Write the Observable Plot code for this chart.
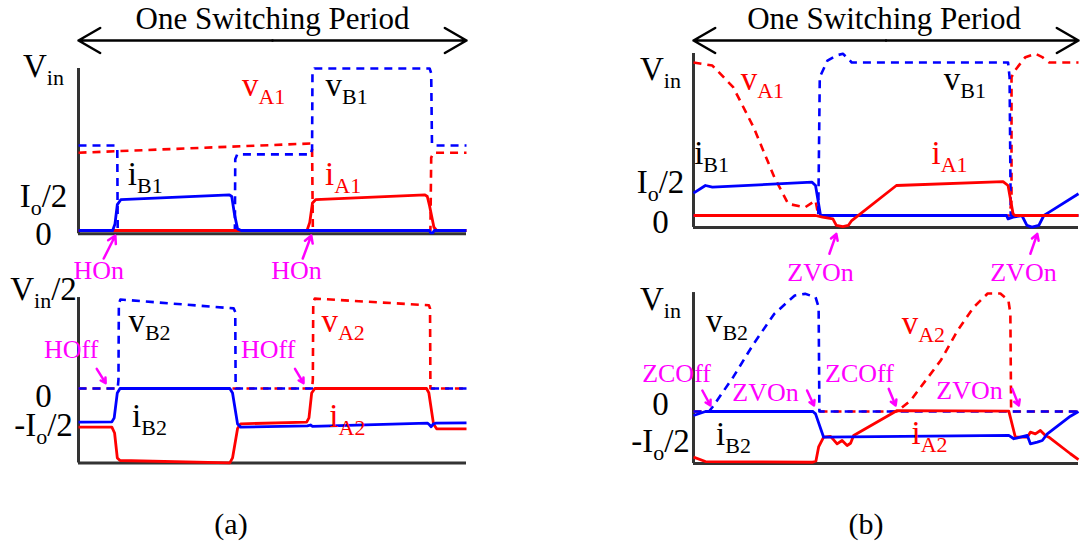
<!DOCTYPE html>
<html>
<head>
<meta charset="utf-8">
<script src="https://cdn.jsdelivr.net/npm/d3@7"></script>
<script src="https://cdn.jsdelivr.net/npm/@observablehq/plot@0.6"></script>
<style>
  body { margin: 0; background: #fff; }
  #fig { position: relative; width: 1081px; height: 544px; overflow: hidden;
         font-family: "Liberation Serif", "Times New Roman", serif; }
  #fig svg { position: absolute; left: 0; top: 0; overflow: visible; }
  .cap { position: absolute; width: 100px; text-align: center; font-size: 30px; line-height: 30px; color: #000; }
</style>
</head>
<body>
<div id="fig"></div>
<script>
// ---- waveforms over one switching period: [t (fraction of period), value] ----
// (a) hard switching, upper device pair
const aTopVA1 = [[0,0.48],[0.598,0.537],[0.602,0.52],[0.604,0],[0.907,0],[0.909,0.45],[0.915,0.48],[1,0.48]];
const aTopVB1 = [[0,0.525],[0.096,0.525],[0.1,0.5],[0.101,0],[0.403,0],[0.404,0.44],[0.409,0.47],[0.598,0.47],[0.602,0.5],[0.603,0.97],[0.608,1],[0.905,1],[0.909,0.97],[0.911,0.54],[0.915,0.525],[1,0.525]];
const aTopIA1 = [[0,0],[0.589,0],[0.596,0.05],[0.603,0.17],[0.611,0.19],[0.893,0.22],[0.899,0.21],[0.905,0.15],[0.916,0.02],[0.923,0],[1,0]];
const aTopIB1 = [[0,0],[0.088,0],[0.094,0.04],[0.1,0.16],[0.109,0.19],[0.389,0.22],[0.395,0.21],[0.402,0.1],[0.41,0.01],[0.419,0],[0.904,0],[0.908,-0.015],[0.913,-0.015],[0.917,0],[1,0]];
// (a) hard switching, lower device pair
const aBotVB2 = [[0,0],[0.101,0],[0.103,0.1],[0.104,0.95],[0.108,1.0],[0.4,0.9],[0.404,0.86],[0.405,0],[1,0]];
const aBotVA2 = [[0,0],[0.602,0],[0.604,0.1],[0.605,0.97],[0.609,1.01],[0.903,0.935],[0.906,0.9],[0.907,0],[1,0]];
const aBotIB2 = [[0,-0.378],[0.086,-0.375],[0.092,-0.33],[0.1,-0.05],[0.107,0],[0.39,0],[0.397,-0.05],[0.41,-0.4],[0.418,-0.434],[0.59,-0.42],[0.598,-0.41],[0.603,-0.425],[0.9,-0.39],[0.905,-0.41],[0.909,-0.43],[0.914,-0.4],[0.92,-0.39],[1,-0.386]];
const aBotIA2 = [[0,-0.434],[0.086,-0.434],[0.093,-0.5],[0.1,-0.78],[0.107,-0.809],[0.39,-0.835],[0.397,-0.78],[0.41,-0.45],[0.418,-0.397],[0.588,-0.378],[0.594,-0.33],[0.601,-0.05],[0.609,0],[0.897,0],[0.903,-0.05],[0.915,-0.4],[0.923,-0.453],[1,-0.453]];
// (b) soft switching, upper device pair
const bTopVA1 = [[0,1.0],[0.049,0.98],[0.103,0.839],[0.156,0.577],[0.21,0.25],[0.246,0.076],[0.29,0.054],[0.317,0.098],[0.322,0.03],[0.33,0],[0.821,0],[0.826,0.1],[0.826,0.904],[0.835,0.948],[0.862,1.035],[0.888,1.057],[0.906,1.035],[0.924,1.0],[1,1.0]];
const bTopVB1 = [[0,0],[0.324,0],[0.328,0.904],[0.348,1.013],[0.371,1.046],[0.388,1.057],[0.402,1.024],[0.411,1.0],[0.817,1.0],[0.821,0.904],[0.824,0],[1,0]];
const bTopIA1 = [[0,0],[0.317,0],[0.335,-0.011],[0.362,-0.022],[0.371,-0.065],[0.388,-0.072],[0.402,-0.065],[0.411,-0.033],[0.527,0.196],[0.804,0.222],[0.817,0.196],[0.83,0.011],[0.835,0],[1,0]];
const bTopIB1 = [[0,0.146],[0.031,0.196],[0.049,0.185],[0.308,0.218],[0.317,0.196],[0.33,0],[0.813,0],[0.817,-0.022],[0.83,-0.011],[0.853,0],[0.866,-0.065],[0.879,-0.076],[0.897,-0.065],[0.91,0],[0.924,0.022],[1,0.142]];
// (b) soft switching, lower device pair
const bBotVB2 = [[0,0],[0.04,0],[0.049,0.036],[0.103,0.291],[0.156,0.573],[0.21,0.828],[0.263,0.983],[0.29,0.997],[0.317,0.969],[0.325,0.884],[0.327,0],[1,0]];
const bBotVA2 = [[0,0],[0.53,0],[0.538,0.025],[0.564,0.093],[0.642,0.432],[0.686,0.686],[0.727,0.881],[0.764,1.0],[0.797,1.0],[0.818,0.941],[0.823,0.83],[0.825,0],[1,0]];
const bBotIB2 = [[0,-0.034],[0.031,0],[0.31,0],[0.317,-0.02],[0.338,-0.218],[0.819,-0.203],[0.832,-0.231],[0.849,-0.218],[0.867,-0.203],[0.875,-0.274],[0.893,-0.26],[0.906,-0.246],[0.919,-0.189],[0.979,-0.04],[1,0]];
const bBotIA2 = [[0,-0.387],[0.031,-0.424],[0.31,-0.43],[0.318,-0.42],[0.325,-0.3],[0.338,-0.218],[0.356,-0.212],[0.364,-0.24],[0.373,-0.274],[0.386,-0.246],[0.399,-0.288],[0.408,-0.269],[0.416,-0.203],[0.529,0.008],[0.819,0.003],[0.836,-0.218],[0.867,-0.218],[0.875,-0.175],[0.888,-0.189],[0.901,-0.161],[0.914,-0.203],[0.923,-0.218],[0.979,-0.358],[1,-0.407]];

// ---- axis tick labels ----
const aTopTicks = [{v: 1, label: "V_{in}"}, {v: 0.19, label: "I_o/2"}, {v: 0, label: "0"}];
const aBotTicks = [{v: 1, label: "V_{in}/2"}, {v: 0, label: "0"}, {v: -0.38, label: "-I_o/2"}];
const bTopTicks = [{v: 1, label: "V_{in}"}, {v: 0.196, label: "I_o/2"}, {v: 0, label: "0"}];
const bBotTicks = [{v: 1, label: "V_{in}"}, {v: 0, label: "0"}, {v: -0.23, label: "-I_o/2"}];

// ---- waveform names (anchored at the text baseline) ----
const aTopNames = [{t: 0.477, v: 0.833, text: "v_{A1}", c: "A"}, {t: 0.691, v: 0.833, text: "v_{B1}", c: "B"},
                   {t: 0.172, v: 0.278, text: "i_{B1}", c: "B"}, {t: 0.682, v: 0.278, text: "i_{A1}", c: "A"}];
const aBotNames = [{t: 0.183, v: 0.633, text: "v_{B2}", c: "B"}, {t: 0.682, v: 0.633, text: "v_{A2}", c: "A"},
                   {t: 0.183, v: -0.434, text: "i_{B2}", c: "B"}, {t: 0.693, v: -0.434, text: "i_{A2}", c: "A"}];
const bTopNames = [{t: 0.179, v: 0.817, text: "v_{A1}", c: "A"}, {t: 0.705, v: 0.817, text: "v_{B1}", c: "B"},
                   {t: 0.047, v: 0.338, text: "i_{B1}", c: "B"}, {t: 0.665, v: 0.338, text: "i_{A1}", c: "A"}];
const bBotNames = [{t: 0.087, v: 0.672, text: "v_{B2}", c: "B"}, {t: 0.597, v: 0.658, text: "v_{A2}", c: "A"},
                   {t: 0.104, v: -0.288, text: "i_{B2}", c: "B"}, {t: 0.613, v: -0.274, text: "i_{A2}", c: "A"}];

// ---- switching events: label position and pointer (tail -> head) ----
const aTopEvents = [{text: "HOn", t: 0.052, v: -0.298, t1: 0.065, v1: -0.173, t2: 0.095, v2: -0.031},
                    {text: "HOn", t: 0.562, v: -0.298, t1: 0.578, v1: -0.173, t2: 0.600, v2: -0.031}];
const aBotEvents = [{text: "HOff", t: -0.019, v: 0.345, t1: 0.047, v1: 0.221, t2: 0.07, v2: 0.06},
                    {text: "HOff", t: 0.489, v: 0.345, t1: 0.558, v1: 0.221, t2: 0.58, v2: 0.06}];
const bTopEvents = [{text: "ZVOn", t: 0.330, v: -0.429, t1: 0.353, v1: -0.25, t2: 0.371, v2: -0.12},
                    {text: "ZVOn", t: 0.857, v: -0.429, t1: 0.875, v1: -0.25, t2: 0.893, v2: -0.12}];
const bBotEvents = [{text: "ZCOff", t: -0.044, v: 0.249, t1: 0.023, v1: 0.178, t2: 0.044, v2: 0.051},
                    {text: "ZVOn", t: 0.187, v: 0.093, t1: 0.295, v1: 0.178, t2: 0.313, v2: 0.051},
                    {text: "ZCOff", t: 0.431, v: 0.249, t1: 0.507, v1: 0.192, t2: 0.525, v2: 0.051},
                    {text: "ZVOn", t: 0.717, v: 0.108, t1: 0.828, v1: 0.192, t2: 0.845, v2: 0.051}];

const periodTitle = "One Switching Period";

// ---- styling ----
const RED = "#ff0000", BLUE = "#0000ff", MAGENTA = "#ff00ff", AXIS = "#333333";
const FONT = '"Liberation Serif", "Times New Roman", serif';
const DASH = "8,6";
const nameColor = {A: RED, B: "#000"};

function waveform(data, color, dashed) {
  return Plot.line(data, {
    x: d => d[0], y: d => d[1], stroke: color,
    strokeWidth: dashed ? 2.6 : 2.8,
    strokeDasharray: dashed ? DASH : null,
    strokeLinejoin: "round", strokeLinecap: "butt"
  });
}

// One panel: the frame is placed on the page through explicit scale ranges.
function panel(cfg) {
  const {xRange, yZero, yUnit, yDomain, ticks, tickDx, tickNudge, names, events, dashed, solid, title} = cfg;
  const marks = [
    Plot.ruleY([yDomain[0]], {x1: 0, x2: 1, stroke: AXIS, strokeWidth: 3}),
    Plot.ruleX([0], {y1: yDomain[0], y2: yDomain[1], stroke: AXIS, strokeWidth: 3}),
    ...dashed.map(([d, c]) => waveform(d, c, true)),
    ...solid.map(([d, c]) => waveform(d, c, false)),
    ...ticks.map((d, i) => Plot.text([d], {
      x: () => 0, y: "v", text: "label", dx: tickDx, dy: tickNudge[i],
      textAnchor: "middle", fontSize: 33, fill: "#000"
    })),
    Plot.text(names, {x: "t", y: "v", text: "text", fill: d => nameColor[d.c],
      textAnchor: "middle", lineAnchor: "bottom", fontSize: 33}),
    Plot.text(events, {x: "t", y: "v", text: "text", fill: MAGENTA,
      textAnchor: "middle", lineAnchor: "bottom", fontSize: 26}),
    Plot.arrow(events, {x1: "t1", y1: "v1", x2: "t2", y2: "v2", stroke: MAGENTA,
      strokeWidth: 2.5, headLength: 11})
  ];
  if (title) {
    marks.push(
      Plot.arrow([0, 1], {x1: () => 0.5, x2: d => d, y1: () => title.arrow, y2: () => title.arrow,
        stroke: "#000", strokeWidth: 2.5, headLength: 15}),
      Plot.text([periodTitle], {x: () => title.t, y: () => title.text, text: d => d,
        textAnchor: "middle", fontSize: 31, fill: "#000"})
    );
  }
  return Plot.plot({
    width: 1081, height: 544, margin: 0,
    x: {domain: [0, 1], range: xRange, axis: null},
    y: {domain: yDomain, range: [yZero - yDomain[0] * yUnit, yZero - yDomain[1] * yUnit], axis: null},
    style: {fontFamily: FONT, background: "transparent", overflow: "visible"},
    marks
  });
}

// Turn "x_{ab}" / "x_y" notation into SVG subscripts.
function subscripts(svg) {
  d3.select(svg).selectAll("text").each(function () {
    const el = this;
    const raw = el.textContent;
    if (!raw.includes("_")) return;
    const fs = parseFloat(getComputedStyle(el).fontSize) || 33;
    const sub = Math.round(fs * 0.67), shift = Math.round(fs * 0.24);
    const line = el.querySelector("tspan");
    const ax = line ? line.getAttribute("x") : null;
    const ay = line ? line.getAttribute("y") : null;
    while (el.firstChild) el.removeChild(el.firstChild);
    const parts = [];
    const re = /_\{([^}]*)\}|_(.)|([^_]+)/g;
    let m;
    while ((m = re.exec(raw))) {
      if (m[3] !== undefined) parts.push({s: m[3], sub: false});
      else parts.push({s: m[1] !== undefined ? m[1] : m[2], sub: true});
    }
    let lowered = false;
    parts.forEach((p, i) => {
      const ts = document.createElementNS("http://www.w3.org/2000/svg", "tspan");
      if (i === 0) { if (ax !== null) ts.setAttribute("x", ax); if (ay !== null) ts.setAttribute("y", ay); }
      if (p.sub) { ts.setAttribute("font-size", sub); ts.setAttribute("dy", shift); lowered = true; }
      else if (lowered) { ts.setAttribute("dy", -shift); lowered = false; }
      ts.textContent = p.s;
      el.appendChild(ts);
    });
  });
}

const fig = document.getElementById("fig");
const panels = [
  panel({xRange: [78, 466], yZero: 230, yUnit: 162, yDomain: [-0.02, 1.0],
    ticks: aTopTicks, tickDx: -35, tickNudge: [-2, -3, 4], names: aTopNames, events: aTopEvents,
    dashed: [[aTopVA1, RED], [aTopVB1, BLUE]], solid: [[aTopIA1, RED], [aTopIB1, BLUE]],
    title: {arrow: 1.173, text: 1.306, t: 0.5}}),
  panel({xRange: [78, 466], yZero: 388, yUnit: 89, yDomain: [-0.837, 1.022],
    ticks: aBotTicks, tickDx: -35, tickNudge: [-10, 8, 3], names: aBotNames, events: aBotEvents,
    dashed: [[aBotVA2, RED], [aBotVB2, BLUE]], solid: [[aBotIA2, RED], [aBotIB2, BLUE]]}),
  panel({xRange: [693, 1078], yZero: 215, yUnit: 153, yDomain: [-0.078, 1.059],
    ticks: bTopTicks, tickDx: -33, tickNudge: [7, -3, 7], names: bTopNames, events: bTopEvents,
    dashed: [[bTopVA1, RED], [bTopVB1, BLUE]], solid: [[bTopIB1, BLUE], [bTopIA1, RED]],
    title: {arrow: 1.144, text: 1.284, t: 0.495}}),
  panel({xRange: [693, 1078], yZero: 411, yUnit: 118, yDomain: [-0.441, 1.008],
    ticks: bBotTicks, tickDx: -33, tickNudge: [6, -7, 3], names: bBotNames, events: bBotEvents,
    dashed: [[bBotVA2, RED], [bBotVB2, BLUE]], solid: [[bBotIA2, RED], [bBotIB2, BLUE]]})
];
panels.forEach(svg => { fig.appendChild(svg); subscripts(svg); });

// sub-figure captions
[["(a)", 231], ["(b)", 866]].forEach(([txt, cx]) => {
  const d = document.createElement("div");
  d.className = "cap";
  d.textContent = txt;
  d.style.left = (cx - 50) + "px";
  d.style.top = "509px";
  fig.appendChild(d);
});
</script>
</body>
</html>
